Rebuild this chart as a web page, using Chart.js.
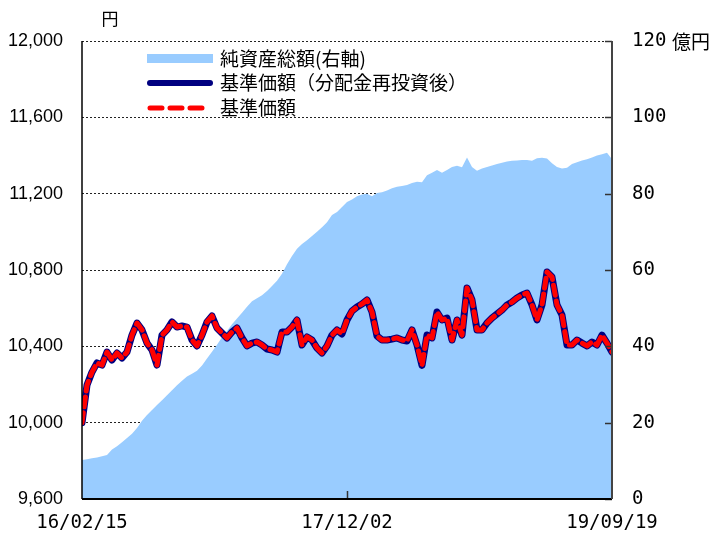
<!DOCTYPE html>
<html>
<head>
<meta charset="utf-8">
<script src="https://cdn.jsdelivr.net/npm/chart.js@4.4.1/dist/chart.umd.min.js"></script>
<style>
  html, body { margin: 0; padding: 0; background: #fff; }
  #wrap { width: 720px; height: 535px; }
</style>
</head>
<body>
<div id="wrap"><canvas id="fundChart" width="720" height="535"></canvas></div>
<script>
// x tick labels sit at first, middle and last point
const xTickLabels = ['16/02/15', '17/12/02', '19/09/19'];

// 基準価額 (円)
const navValues = [
  10000, 10197, 10265, 10313, 10302, 10370, 10328, 10365, 10339, 10370,
  10459, 10522, 10486, 10417, 10381, 10302, 10459, 10486, 10528, 10501,
  10507, 10501, 10433, 10402, 10459, 10528, 10559, 10496, 10470, 10444,
  10475, 10496, 10444, 10402, 10417, 10423, 10407, 10386, 10381, 10370,
  10475, 10475, 10501, 10538, 10407, 10449, 10433, 10391, 10365, 10402,
  10459, 10486, 10465, 10538, 10585, 10606, 10622, 10643, 10580, 10454,
  10433, 10433, 10438, 10444, 10433, 10428, 10486, 10407, 10300, 10459,
  10444, 10580, 10538, 10548, 10433, 10538, 10459, 10706, 10643, 10486,
  10486, 10522, 10548, 10569, 10590, 10617, 10632, 10653, 10669, 10679,
  10617, 10538, 10617, 10790, 10763, 10617, 10564, 10407, 10407, 10433,
  10417, 10402, 10423, 10407, 10459, 10417, 10370
];

// 基準価額（分配金再投資後）: no distributions, same path
const navReinvestedValues = navValues.slice();

// 純資産総額 (億円)
const netAssetValues = [
  10.2, 10.4, 10.7, 10.9, 11.2, 11.5, 13.0, 13.8, 14.9, 16.0,
  17.1, 18.6, 20.5, 22.0, 23.3, 24.6, 25.9, 27.2, 28.5, 29.8,
  31.0, 32.1, 32.8, 33.6, 35.0, 36.8, 38.6, 40.4, 42.4, 44.0,
  45.8, 47.3, 48.8, 50.4, 51.8, 52.6, 53.4, 54.5, 55.8, 57.2,
  59.0, 61.5, 63.7, 65.6, 66.8, 67.8, 68.9, 70.0, 71.2, 72.5,
  74.4, 75.2, 76.5, 77.8, 78.5, 79.3, 79.8, 80.0, 79.3, 80.2,
  80.4, 80.8, 81.4, 81.8, 82.0, 82.3, 82.8, 83.1, 83.0, 84.8,
  85.5, 86.2, 85.5, 86.2, 87.0, 87.3, 86.9, 89.5, 87.0, 86.0,
  86.6, 87.0, 87.4, 87.8, 88.1, 88.4, 88.6, 88.7, 88.8, 88.8,
  88.6, 89.3, 89.4, 89.2, 88.0, 87.0, 86.6, 86.8, 87.8, 88.2,
  88.7, 89.0, 89.5, 90.0, 90.3, 90.7, 89.0
];

const lastIdx = navValues.length - 1;
const xTickIndexes = [0, lastIdx / 2, lastIdx];

const toXY = arr => arr.map((v, i) => ({ x: i, y: v }));

const cjkFont = '"Noto Sans CJK JP", sans-serif';
const leftFont = '"Liberation Sans", Arial, sans-serif';
const monoFont = '"DejaVu Sans Mono", "Liberation Mono", monospace';

// frame, inward ticks, unit titles and the legend
const decorPlugin = {
  id: 'decor',
  afterDatasetsDraw(chart) {
    const ctx = chart.ctx;
    const a = chart.chartArea;
    const y2 = chart.scales.y2;
    const x = chart.scales.x;
    ctx.save();
    ctx.setLineDash([]);
    ctx.strokeStyle = '#333';
    ctx.lineWidth = 1.5;
    y2.ticks.forEach(t => {
      const py = Math.round(y2.getPixelForValue(t.value)) + 0.5;
      ctx.beginPath();
      ctx.moveTo(a.right - 7, py);
      ctx.lineTo(a.right, py);
      ctx.stroke();
    });
    const xm = Math.round(x.getPixelForValue(xTickIndexes[1])) + 0.5;
    ctx.beginPath();
    ctx.moveTo(xm, a.bottom);
    ctx.lineTo(xm, a.bottom - 8);
    ctx.stroke();

    ctx.strokeStyle = '#000';
    ctx.lineWidth = 1.5;
    ctx.beginPath();
    ctx.moveTo(a.left, a.top);
    ctx.lineTo(a.left, a.bottom);
    ctx.stroke();
    ctx.lineWidth = 2;
    ctx.beginPath();
    ctx.moveTo(a.left, a.bottom);
    ctx.lineTo(a.right, a.bottom);
    ctx.stroke();
    ctx.strokeStyle = '#444';
    ctx.beginPath();
    ctx.moveTo(a.right, a.top);
    ctx.lineTo(a.right, a.bottom);
    ctx.stroke();
    ctx.restore();
  },
  afterDraw(chart) {
    const ctx = chart.ctx;
    const ds = chart.data.datasets;
    ctx.save();
    ctx.fillStyle = '#000';
    ctx.textBaseline = 'middle';
    ctx.font = '17px ' + cjkFont;
    ctx.textAlign = 'center';
    ctx.fillText('円', 110, 19);
    ctx.font = '19px ' + cjkFont;
    ctx.textAlign = 'left';
    ctx.fillText('億円', 672, 42);

    // legend
    const lx = 148, lw = 64, tx = 220;
    const rows = [59, 83, 108];
    ctx.fillStyle = ds[0].backgroundColor;
    ctx.fillRect(lx - 1, rows[0] - 5, lw + 2, 9);
    ctx.lineCap = 'round';
    ctx.strokeStyle = ds[1].borderColor;
    ctx.lineWidth = 6;
    ctx.beginPath();
    ctx.moveTo(lx + 2, rows[1]);
    ctx.lineTo(lx + lw - 2, rows[1]);
    ctx.stroke();
    ctx.strokeStyle = ds[2].borderColor;
    ctx.lineWidth = 5;
    ctx.setLineDash([12, 8]);
    ctx.beginPath();
    ctx.moveTo(lx + 2, rows[2]);
    ctx.lineTo(lx + lw - 2, rows[2]);
    ctx.stroke();
    ctx.setLineDash([]);
    ctx.fillStyle = '#000';
    ctx.font = '19px ' + cjkFont;
    ds.forEach((d, i) => ctx.fillText(d.label, tx, rows[i]));
    ctx.restore();
  }
};

new Chart(document.getElementById('fundChart'), {
  type: 'line',
  data: {
    datasets: [{
      label: '純資産総額(右軸)',
      data: toXY(netAssetValues),
      yAxisID: 'y2',
      fill: 'origin',
      backgroundColor: '#99CCFF',
      borderWidth: 0,
      pointRadius: 0,
      order: 3
    }, {
      label: '基準価額（分配金再投資後）',
      data: toXY(navReinvestedValues),
      yAxisID: 'y',
      borderColor: '#000080',
      borderWidth: 7,
      borderJoinStyle: 'round',
      borderCapStyle: 'round',
      pointRadius: 0,
      fill: false,
      order: 2
    }, {
      label: '基準価額',
      data: toXY(navValues),
      yAxisID: 'y',
      borderColor: '#FF0000',
      borderWidth: 5,
      borderDash: [10, 6],
      borderJoinStyle: 'round',
      borderCapStyle: 'round',
      pointRadius: 0,
      fill: false,
      order: 1
    }]
  },
  options: {
    responsive: false,
    animation: false,
    layout: { padding: { top: 41, left: 0, right: 0, bottom: 0 } },
    plugins: { legend: { display: false }, tooltip: { enabled: false } },
    scales: {
      x: {
        type: 'linear',
        min: 0,
        max: lastIdx,
        grid: { display: false, drawTicks: false },
        border: { display: false },
        afterBuildTicks: s => { s.ticks = xTickIndexes.map(v => ({ value: v })); },
        afterFit: s => { s.height = 36; },
        ticks: {
          autoSkip: false,
          maxRotation: 0,
          padding: 13,
          color: '#000',
          font: { family: monoFont, size: 19 },
          callback: v => xTickLabels[xTickIndexes.indexOf(v)]
        }
      },
      y: {
        position: 'left',
        min: 9600,
        max: 12000,
        afterFit: s => { s.width = 82; },
        grid: { color: '#222', lineWidth: 1, drawTicks: false },
        border: { display: false, dash: [2, 2] },
        ticks: {
          stepSize: 400,
          padding: 19,
          color: '#000',
          font: { family: leftFont, size: 18 },
          callback: v => v.toLocaleString('en-US')
        }
      },
      y2: {
        position: 'right',
        min: 0,
        max: 120,
        afterFit: s => { s.width = 108; },
        grid: { display: false, drawTicks: false },
        border: { display: false },
        ticks: {
          stepSize: 20,
          padding: 20,
          color: '#000',
          font: { family: monoFont, size: 19 }
        }
      }
    }
  },
  plugins: [decorPlugin]
});
</script>
</body>
</html>
